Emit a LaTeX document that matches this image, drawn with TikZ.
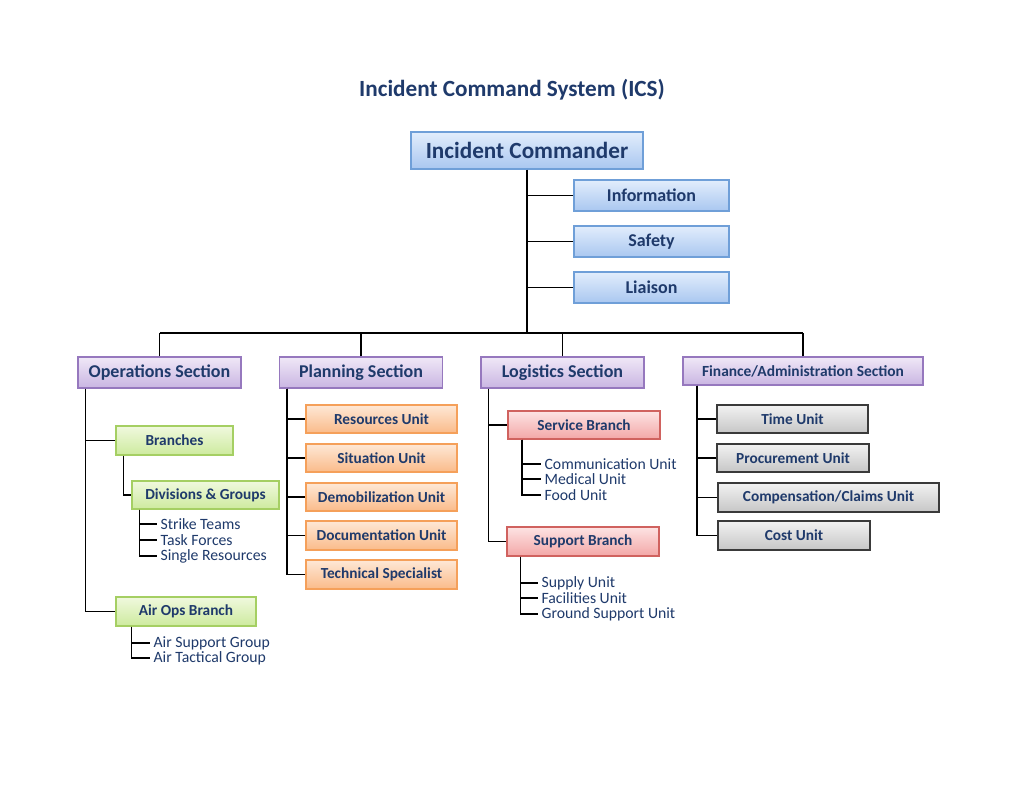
\documentclass[tikz,border=0pt]{standalone}
\usepackage{fontspec}
\setmainfont{Carlito}
\definecolor{txt}{HTML}{1F3A6B}
\definecolor{bluetop}{HTML}{E2EDFC}
\definecolor{bluebot}{HTML}{A9C7F0}
\definecolor{blueline}{HTML}{6F9FD8}
\definecolor{purtop}{HTML}{F0E8F7}
\definecolor{purbot}{HTML}{C9B5E2}
\definecolor{purline}{HTML}{9678BE}
\definecolor{grntop}{HTML}{F0F9DE}
\definecolor{grnbot}{HTML}{CDEA9E}
\definecolor{grnline}{HTML}{A5CF63}
\definecolor{ortop}{HTML}{FEE8D6}
\definecolor{orbot}{HTML}{FABB8A}
\definecolor{orline}{HTML}{F5A05A}
\definecolor{redtop}{HTML}{FDE3E3}
\definecolor{redbot}{HTML}{F3A7A7}
\definecolor{redline}{HTML}{D0625F}
\definecolor{grytop}{HTML}{F2F2F2}
\definecolor{grybot}{HTML}{C6C6C6}
\definecolor{gryline}{HTML}{3A3A3A}
\begin{document}
\begin{tikzpicture}[x=0.75pt,y=-0.75pt,
  bx/.style 2 args={minimum width=#1*0.75pt, minimum height=#2*0.75pt, inner sep=0pt, text=txt, font=\bfseries, line width=1.1pt},
  bluebox/.style={draw=blueline, top color=bluetop, bottom color=bluebot},
  purbox/.style={draw=purline, top color=purtop, bottom color=purbot},
  grnbox/.style={draw=grnline, top color=grntop, bottom color=grnbot},
  orbox/.style={draw=orline, top color=ortop, bottom color=orbot},
  redbox/.style={draw=redline, top color=redtop, bottom color=redbot},
  grybox/.style={draw=gryline, top color=grytop, bottom color=grybot},
  secfont/.style={font=\fontsize{13.5}{15}\selectfont\bfseries},
  unitfont/.style={font=\fontsize{11.5}{13}\selectfont\bfseries},
  item/.style={anchor=west, inner xsep=2.5pt, inner ysep=0pt, text=txt, font=\fontsize{11.8}{13}\selectfont},
  conn/.style={draw=black, line width=1.1pt}]
\useasboundingbox[fill=white] (0,0) rectangle (1024,791);

\node[text=txt, font=\fontsize{17.4}{20}\selectfont\bfseries] (title) at (512,90) {Incident Command System (ICS)};

% top
\node[bx={232}{37}, bluebox, font=\fontsize{17.4}{20}\selectfont\bfseries] (ic) at (527,150.5) {Incident Commander};
\node[bx={155}{31}, bluebox, secfont] (info) at (651.5,195.5) {Information};
\node[bx={155}{31}, bluebox, secfont] (safe) at (651.5,241.5) {Safety};
\node[bx={155}{31}, bluebox, secfont] (liai) at (651.5,287.5) {Liaison};

% sections
\node[bx={163}{31}, purbox, secfont] (ops) at (159.5,372.5) {Operations Section};
\node[bx={163}{31}, purbox, secfont] (plan) at (361,372.5) {Planning Section};
\node[bx={163}{31}, purbox, secfont] (log) at (562.5,372.5) {Logistics Section};
\node[bx={240}{28}, purbox, font=\fontsize{11.6}{13}\selectfont\bfseries] (fin) at (803,371) {Finance/Administration Section};

\coordinate (bus) at (528,333);
\draw[conn] (ic.south) -- (ic.south |- bus);
\draw[conn] (info.west) -- (info.west -| ic.south);
\draw[conn] (safe.west) -- (safe.west -| ic.south);
\draw[conn] (liai.west) -- (liai.west -| ic.south);
\draw[conn] (ops.north |- bus) -- (fin.north |- bus);
\draw[conn] (ops.north) -- (ops.north |- bus);
\draw[conn] (plan.north) -- (plan.north |- bus);
\draw[conn] (log.north) -- (log.north |- bus);
\draw[conn] (fin.north) -- (fin.north |- bus);

% operations
\node[bx={117}{29}, grnbox, unitfont] (br) at (174.5,440.5) {Branches};
\node[bx={147}{28}, grnbox, unitfont] (div) at (205.5,495) {Divisions \& Groups};
\node[bx={140}{29}, grnbox, unitfont] (air) at (186,611.5) {Air Ops Branch};
\node[item] (st) at (157,524) {Strike Teams};
\node[item] (tf) at (157,540) {Task Forces};
\node[item] (sr) at (157,556) {Single Resources};
\node[item] (asg) at (150,643) {Air Support Group};
\node[item] (atg) at (150,658) {Air Tactical Group};
\draw[conn] ([xshift=6pt]ops.south west) |- (br.west);
\draw[conn] ([xshift=6pt]ops.south west) |- (air.west);
\draw[conn] ([xshift=6pt]br.south west) |- (div.west);
\draw[conn] ([xshift=6pt]div.south west) |- (st.west);
\draw[conn] ([xshift=6pt]div.south west) |- (tf.west);
\draw[conn] ([xshift=6pt]div.south west) |- (sr.west);
\draw[conn] ([xshift=12pt]air.south west) |- (asg.west);
\draw[conn] ([xshift=12pt]air.south west) |- (atg.west);

% planning
\node[bx={151}{28}, orbox, unitfont] (ru) at (381.5,419) {Resources Unit};
\node[bx={151}{28}, orbox, unitfont] (su) at (381.5,458) {Situation Unit};
\node[bx={151}{28}, orbox, unitfont] (du) at (381.5,497) {Demobilization Unit};
\node[bx={151}{29}, orbox, unitfont] (doc) at (381.5,535.5) {Documentation Unit};
\node[bx={151}{29}, orbox, unitfont] (ts) at (381.5,574.5) {Technical Specialist};
\foreach \n in {ru,su,du,doc,ts}
  \draw[conn] ([xshift=6pt]plan.south west) |- (\n.west);

% logistics
\node[bx={152}{28}, redbox, unitfont] (sb) at (584,425) {Service Branch};
\node[bx={152}{29}, redbox, unitfont] (spb) at (583,541.5) {Support Branch};
\node[item] (cu) at (541,464) {Communication Unit};
\node[item] (mu) at (541,479) {Medical Unit};
\node[item] (fu) at (541,495) {Food Unit};
\node[item] (sup) at (538,583) {Supply Unit};
\node[item] (fac) at (538,598) {Facilities Unit};
\node[item] (gsu) at (538,614) {Ground Support Unit};
\draw[conn] ([xshift=6pt]log.south west) |- (sb.west);
\draw[conn] ([xshift=6pt]log.south west) |- (spb.west);
\foreach \n in {cu,mu,fu}
  \draw[conn] ([xshift=11pt]sb.south west) |- (\n.west);
\foreach \n in {sup,fac,gsu}
  \draw[conn] ([xshift=10.5pt]spb.south west) |- (\n.west);

% finance
\node[bx={151}{28}, grybox, unitfont] (tu) at (792.5,419) {Time Unit};
\node[bx={152}{28}, grybox, unitfont] (pu) at (793,458) {Procurement Unit};
\node[bx={221}{29}, grybox, unitfont] (cc) at (828.5,497.5) {Compensation/Claims Unit};
\node[bx={152}{29}, grybox, unitfont] (cou) at (794,535.5) {Cost Unit};
\foreach \n in {tu,pu,cc,cou}
  \draw[conn] ([xshift=11pt]fin.south west) |- (\n.west);
\end{tikzpicture}
\end{document}
